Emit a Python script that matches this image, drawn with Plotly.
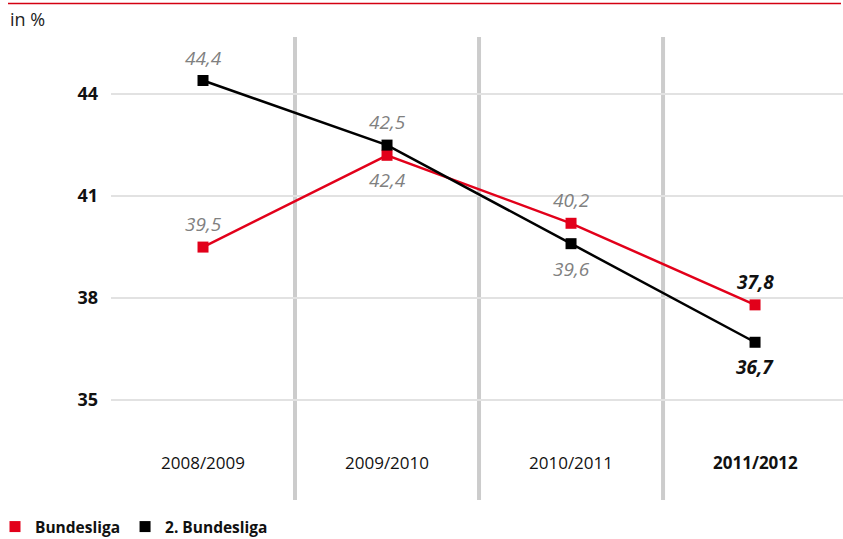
import plotly.graph_objects as go

seasons = ["2008/2009", "2009/2010", "2010/2011", "2011/2012"]
bundesliga = [39.5, 42.2, 40.2, 37.8]
bundesliga_labels = ["39,5", "42,4", "40,2", "37,8"]
zweite = [44.4, 42.5, 39.6, 36.7]
zweite_labels = ["44,4", "42,5", "39,6", "36,7"]
y_ticks = [35, 38, 41, 44]

RED = "#e2001a"
BLACK = "#000000"
GRAY_TXT = "#808080"
FONT = "Open Sans"

xs = list(range(len(seasons)))
fig = go.Figure()

fig.add_trace(go.Scatter(x=xs, y=bundesliga, mode="lines+markers",
                         line=dict(color=RED, width=2.5),
                         marker=dict(symbol="square", size=11, color=RED),
                         showlegend=False, hoverinfo="skip"))
fig.add_trace(go.Scatter(x=xs, y=zweite, mode="lines+markers",
                         line=dict(color=BLACK, width=2.5),
                         marker=dict(symbol="square", size=11, color=BLACK),
                         showlegend=False, hoverinfo="skip"))
# legend-only traces
fig.add_trace(go.Scatter(x=[None], y=[None], mode="markers", name="<b>Bundesliga</b>",
                         marker=dict(symbol="square", size=11, color=RED)))
fig.add_trace(go.Scatter(x=[None], y=[None], mode="markers", name="<b>2. Bundesliga</b>",
                         marker=dict(symbol="square", size=11, color=BLACK)))

# value labels: position above/below per point
red_pos = ["above", "below", "above", "above"]
black_pos = ["above", "above", "below", "below"]
last = len(seasons) - 1
for vals, labels, pos in [(bundesliga, bundesliga_labels, red_pos),
                          (zweite, zweite_labels, black_pos)]:
    for i, (v, t, p) in enumerate(zip(vals, labels, pos)):
        is_last = i == last
        txt = f"<b><i>{t}</i></b>" if is_last else f"<i>{t}</i>"
        fig.add_annotation(x=i, y=v, text=txt, showarrow=False,
                           yshift=23 if p == "above" else -25,
                           font=dict(family=FONT, size=19,
                                     color="#111111" if is_last else GRAY_TXT))

# category labels
for i, s in enumerate(seasons):
    txt = f"<b>{s}</b>" if i == last else s
    fig.add_annotation(x=i, y=33.15, text=txt, showarrow=False,
                       font=dict(family=FONT, size=17, color="#111111"))

# vertical separators
for i in range(len(seasons) - 1):
    fig.add_shape(type="line", x0=i + 0.5, x1=i + 0.5, xref="x",
                  y0=0, y1=1, yref="paper",
                  line=dict(color="#cccccc", width=4), layer="below")

# top red rule
fig.add_shape(type="line", xref="paper", yref="paper",
              x0=(8 - 111) / 732, x1=(841 - 111) / 732,
              y0=1 + 33.5 / 463, y1=1 + 33.5 / 463,
              line=dict(color="#d40012", width=1.5))

fig.add_annotation(xref="paper", yref="paper", x=(8 - 111) / 732, y=1 + 18 / 463,
                   xanchor="left", yanchor="middle", text="in %", showarrow=False,
                   font=dict(family=FONT, size=18, color="#222222"))

fig.update_layout(
    width=843, height=539,
    margin=dict(l=111, r=0, t=37, b=39, autoexpand=False),
    paper_bgcolor="white", plot_bgcolor="white",
    font=dict(family=FONT, color="#111111"),
    xaxis=dict(range=[-0.5, 3.478], showgrid=False, zeroline=False,
               showticklabels=False, showline=False),
    yaxis=dict(range=[32.06, 45.68], tickvals=y_ticks,
               ticktext=[f"<b>{v}</b>" for v in y_ticks],
               showgrid=True, gridcolor="#e2e2e2", gridwidth=1.5,
               zeroline=False, showline=False, ticks="",
               ticklabelstandoff=12,
               tickfont=dict(family=FONT, size=18, color="#111111")),
    legend=dict(orientation="h", x=(-5 - 111) / 732, y=-27 / 463,
                xanchor="left", yanchor="middle",
                font=dict(family=FONT, size=15.5, color="#111111"),
                itemwidth=30, tracegroupgap=0, bgcolor="rgba(0,0,0,0)"),
    showlegend=True,
)

fig.write_html("out.html")
